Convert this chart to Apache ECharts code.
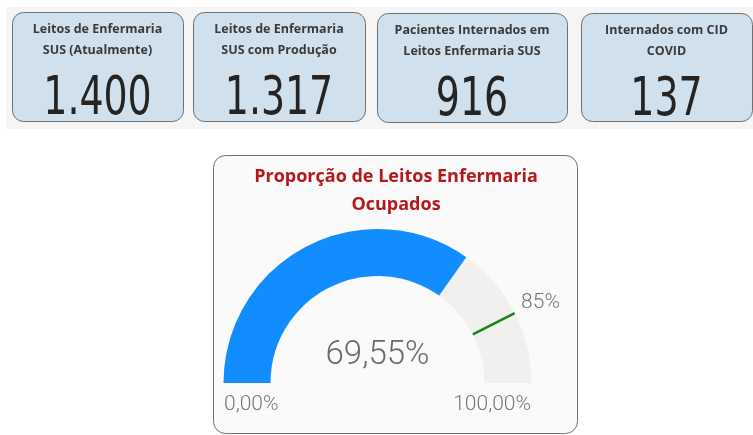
<!doctype html>
<html>
<head>
	<meta charset="utf-8">
	<title>Leitos de Enfermaria SUS</title>
	<script src="https://cdn.jsdelivr.net/npm/echarts@6/dist/echarts.min.js"></script>
	<style type="text/css">
		html, body {
			margin: 0;
			padding: 0;
			background-color: #fff;
		}
		#painel {
			width: 753px;
			height: 435px;
		}
	</style>
</head>
<body>
	<div id="painel"></div>

	<script type="text/javascript">
		// indicadores do topo
		var cardLabels = [
			'Leitos de Enfermaria\nSUS (Atualmente)',
			'Leitos de Enfermaria\nSUS com Produção',
			'Pacientes Internados em\nLeitos Enfermaria SUS',
			'Internados com CID\nCOVID'
		];
		var cardValues = [1400, 1317, 916, 137];

		// medidor
		var gaugeTitle = 'Proporção de Leitos Enfermaria\nOcupados';
		var gaugeValue = [69.55];
		var gaugeTarget = [85];
		var gaugeMin = 0;
		var gaugeMax = 100;

		var cardBoxes = [
			[12, 12, 171, 109],
			[193, 12, 172, 109],
			[377, 13, 190, 109],
			[581, 13, 171, 108]
		];

		function fmtInt(v) {
			return String(v).replace(/\B(?=(\d{3})+(?!\d))/g, '.');
		}

		function fmtPct(v, dec) {
			return v.toFixed(dec).replace('.', ',') + '%';
		}

		function buildGraphic() {
			var els = [];
			els.push({
				type: 'rect',
				shape: { x: 6, y: 7, width: 747, height: 122 },
				style: { fill: '#F5F5F5' },
				z: 0
			});
			for (var i = 0; i < cardValues.length; i++) {
				var b = cardBoxes[i];
				els.push({
					type: 'rect',
					shape: { x: b[0] + 0.5, y: b[1] + 0.5, width: b[2], height: b[3], r: 11 },
					style: { fill: '#D0E1ED', stroke: '#707070', lineWidth: 1 },
					z: 1
				});
				els.push({
					type: 'text',
					x: b[0] + b[2] / 2,
					y: b[1] + 27.5,
					style: {
						text: cardLabels[i],
						textAlign: 'center',
						textVerticalAlign: 'middle',
						font: 'bold 12.5px "Open Sans", "Noto Sans", sans-serif',
						lineHeight: 21,
						fill: '#3A3A3A'
					},
					z: 2
				});
				els.push({
					type: 'text',
					x: b[0] + b[2] / 2,
					y: b[1] + 88,
					scaleX: 0.78,
					style: {
						text: fmtInt(cardValues[i]),
						textAlign: 'center',
						textVerticalAlign: 'middle',
						font: '54px "Liberation Sans Narrow", "DejaVu Sans Condensed", "Roboto", sans-serif',
						fill: '#252423'
					},
					z: 2
				});
			}
			// cartão do medidor
			els.push({
				type: 'rect',
				shape: { x: 213.5, y: 155.5, width: 364, height: 278, r: 12 },
				style: { fill: '#FAFAFA', stroke: '#707070', lineWidth: 1 },
				z: 0
			});
			els.push({
				type: 'text',
				x: 396,
				y: 191,
				style: {
					text: gaugeTitle,
					textAlign: 'center',
					textVerticalAlign: 'middle',
					font: 'bold 18px "Open Sans", "Noto Sans", sans-serif',
					lineHeight: 28,
					fill: '#B3191C'
				},
				z: 2
			});
			els.push({
				type: 'text',
				x: 224,
				y: 405,
				style: {
					text: fmtPct(gaugeMin, 2),
					textAlign: 'left',
					textVerticalAlign: 'middle',
					font: '300 21px "Roboto", "Open Sans", sans-serif',
					fill: '#777777'
				},
				z: 2
			});
			els.push({
				type: 'text',
				x: 531,
				y: 405,
				style: {
					text: fmtPct(gaugeMax, 2),
					textAlign: 'right',
					textVerticalAlign: 'middle',
					font: '300 21px "Roboto", "Open Sans", sans-serif',
					fill: '#777777'
				},
				z: 2
			});
			return els;
		}

		var myChart = echarts.init(document.getElementById('painel'));
		var center = [377.5, 383];
		var radius = 154;
		var band = 47;
		var option = {
			animation: false,
			graphic: { elements: buildGraphic() },
			series: [
				{
					type: 'gauge',
					center: center,
					radius: radius,
					startAngle: 180,
					endAngle: 0,
					min: gaugeMin,
					max: gaugeMax,
					z: 3,
					axisLine: {
						lineStyle: { width: band, color: [[1, '#F1F0EE']] }
					},
					progress: {
						show: true,
						width: band,
						itemStyle: { color: '#118DFF' }
					},
					pointer: { show: false },
					anchor: { show: false },
					axisTick: { show: false },
					splitLine: { show: false },
					axisLabel: { show: false },
					title: { show: false },
					detail: {
						offsetCenter: [0, -27],
						formatter: function (v) { return fmtPct(v, 2); },
						fontSize: 33,
						fontWeight: 300,
						fontFamily: 'Roboto, "Open Sans", sans-serif',
						color: '#6A6A6A'
					},
					data: [{ value: gaugeValue[0] }]
				},
				{
					// meta
					type: 'gauge',
					center: center,
					radius: radius,
					startAngle: 180,
					endAngle: 0,
					min: gaugeMin,
					max: gaugeMax,
					z: 4,
					axisLine: { show: false },
					progress: { show: false },
					pointer: {
						show: true,
						icon: 'rect',
						width: 2.5,
						length: band,
						offsetCenter: [0, -(radius - band)],
						itemStyle: { color: '#108A10' }
					},
					anchor: { show: false },
					axisTick: { show: false },
					splitLine: { show: false },
					axisLabel: { show: false },
					title: { show: false },
					detail: {
						offsetCenter: [163, -80],
						formatter: function (v) { return v + '%'; },
						fontSize: 21,
						fontWeight: 300,
						fontFamily: 'Roboto, "Open Sans", sans-serif',
						color: '#777777'
					},
					data: [{ value: gaugeTarget[0] }]
				}
			]
		};
		myChart.setOption(option);
	</script>
</body>
</html>
